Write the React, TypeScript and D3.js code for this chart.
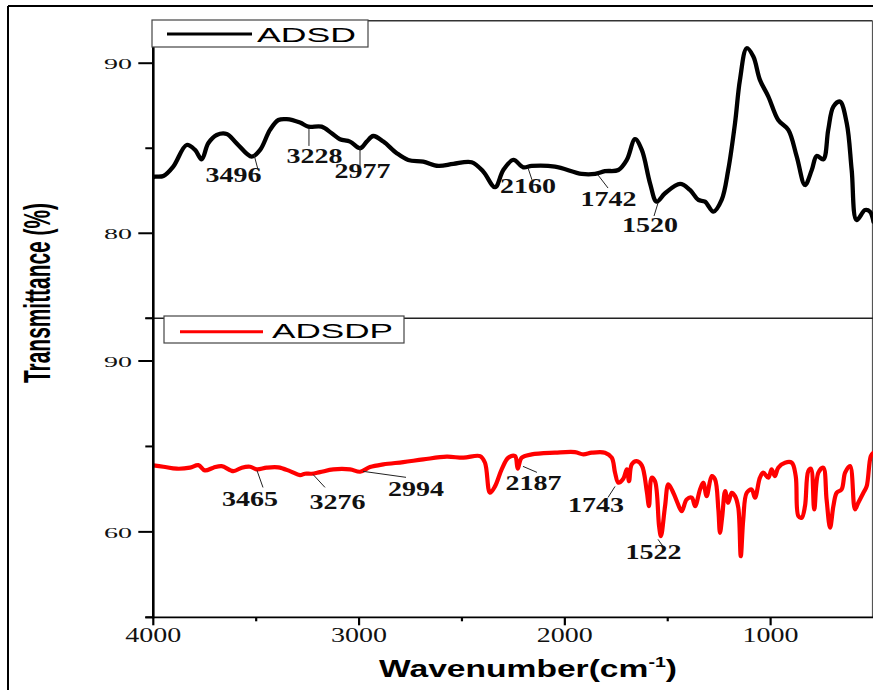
import React from "react";
import * as d3 from "d3";

// FTIR spectra: ADSD (upper panel) and ADSDP (lower panel)
const adsdWavenumber = [4000, 3992, 3951, 3903, 3838, 3797, 3765, 3733, 3692, 3643, 3595, 3522, 3481, 3433, 3392, 3352, 3287, 3247, 3182, 3133, 3093, 3044, 2995, 2963, 2931, 2882, 2817, 2761, 2688, 2615, 2542, 2453, 2396, 2339, 2299, 2250, 2202, 2161, 2048, 1918, 1853, 1805, 1740, 1699, 1659, 1626, 1586, 1554, 1513, 1440, 1392, 1351, 1319, 1278, 1238, 1206, 1173, 1149, 1116, 1084, 1052, 1011, 963, 914, 873, 833, 800, 776, 744, 720, 695, 663, 630, 606, 582, 541, 517, 500];
const adsdTransmittance = [83.3, 83.33, 83.37, 83.92, 85.19, 84.9, 84.35, 85.29, 85.78, 85.84, 85.29, 84.51, 84.9, 86.08, 86.66, 86.71, 86.51, 86.27, 86.27, 85.88, 85.53, 85.39, 85.0, 85.39, 85.72, 85.39, 84.71, 84.31, 84.21, 83.96, 84.08, 84.18, 83.62, 82.71, 83.72, 84.31, 83.88, 83.96, 83.92, 83.49, 83.49, 83.65, 83.72, 84.31, 85.53, 84.9, 82.94, 81.86, 82.35, 82.9, 82.55, 81.96, 81.86, 81.27, 81.96, 83.72, 86.47, 89.02, 90.88, 90.39, 89.02, 88.04, 86.66, 86.08, 84.51, 82.84, 83.72, 84.55, 84.35, 86.08, 87.45, 87.74, 86.47, 83.72, 80.78, 81.37, 81.27, 80.68];

const adsdpWavenumber = [4000, 3951, 3886, 3822, 3781, 3749, 3708, 3668, 3611, 3570, 3530, 3497, 3449, 3393, 3336, 3287, 3263, 3230, 3190, 3125, 3044, 2995, 2947, 2882, 2785, 2688, 2574, 2493, 2412, 2388, 2364, 2339, 2307, 2275, 2242, 2229, 2210, 2161, 2048, 1951, 1910, 1869, 1805, 1772, 1756, 1740, 1716, 1699, 1688, 1675, 1651, 1626, 1602, 1591, 1578, 1562, 1542, 1533, 1513, 1497, 1473, 1456, 1432, 1408, 1383, 1367, 1343, 1327, 1311, 1286, 1270, 1254, 1246, 1235, 1221, 1206, 1189, 1173, 1157, 1145, 1133, 1116, 1092, 1076, 1052, 1036, 1011, 995, 979, 963, 930, 897, 878, 865, 849, 833, 817, 804, 788, 768, 744, 728, 711, 695, 679, 655, 638, 614, 590, 574, 549, 533, 513, 500];
const adsdpTransmittance = [71.67, 71.44, 71.09, 71.27, 71.72, 70.79, 71.27, 71.55, 70.67, 71.27, 71.44, 70.97, 71.27, 71.32, 70.67, 69.96, 70.21, 70.21, 70.49, 70.97, 70.97, 70.56, 71.37, 71.85, 72.25, 72.72, 73.2, 73.02, 73.3, 72.14, 66.87, 68.03, 70.97, 73.02, 73.3, 71.09, 73.02, 73.6, 73.9, 74.0, 73.6, 73.9, 73.9, 73.02, 70.39, 68.63, 69.33, 70.97, 68.91, 71.85, 72.43, 71.67, 67.15, 64.52, 69.51, 68.91, 61.0, 59.24, 64.52, 68.33, 66.87, 65.4, 63.64, 65.69, 65.99, 64.52, 67.45, 68.63, 66.27, 69.79, 69.21, 63.94, 59.84, 62.76, 67.15, 65.11, 66.87, 66.27, 64.24, 55.73, 62.18, 66.87, 67.45, 65.99, 69.51, 70.39, 69.51, 70.97, 69.79, 71.27, 72.14, 72.14, 69.79, 62.76, 62.48, 64.52, 70.67, 71.09, 63.94, 70.39, 71.27, 65.69, 60.72, 64.52, 66.87, 67.45, 70.39, 71.55, 63.94, 65.11, 66.87, 68.03, 73.3, 73.9];

// Labelled band positions (cm-1)
const adsdBands = [3496, 3228, 2977, 2160, 1742, 1520];
const adsdpBands = [3465, 3276, 2994, 2187, 1743, 1522];

// Axis ticks
const xMajorTicks = [4000, 3000, 2000, 1000];
const xMinorTicks = [3500, 2500, 1500];
const topMajorTicks = [90, 80];
const topMinorTicks = [85, 75];
const bottomMajorTicks = [90, 60];
const bottomMinorTicks = [75, 45];

// Leader/label offsets for band labels: [x1, y1, x2, y2, labelX, labelY]
const adsdBandLayout = [
  [-3, 2.3, 1, 17.3, -23.5, 29.3],
  [-3.2, 1.3, -3.2, 19.3, 2.3, 36.3],
  [-3.8, 3.4, -3.8, 22.4, -1.3, 33.4],
  [-3.9, 2, 0.1, 14, -3.9, 27],
  [-19.9, 5, -9.9, 18, -9.4, 36],
  [-5.6, 8.3, -9.6, 21.3, -13.6, 37.3],
];
const adsdpBandLayout = [
  [-6.4, 2.2, -0.4, 19.2, -13.4, 38.2],
  [10.7, -0.1, 22.7, 12.9, 35.2, 34.9],
  [2.7, -0.3, 45.7, 5.7, 55.7, 24.7],
  [-3.4, 10.2, 10.6, 16.2, 7.1, 34.2],
  [-2.7, 5.6, -9.7, 16.6, -21.7, 31.6],
  [-5.2, 19.7, -0.2, 26.7, -9.7, 39.7],
];

const W = 873;
const H = 690;
const plotLeft = 153.3;
const plotRight = 873.5;
const plotTop = 20.7;
const plotMid = 318.3;
const plotBottom = 617.3;

const SERIF = "'Liberation Serif', 'Times New Roman', serif";
const SANS = "'Liberation Sans', Arial, sans-serif";

function interpolate(wn: number, wns: number[], ts: number[]) {
  for (let i = 0; i < wns.length - 1; i++) {
    if (wns[i] >= wn && wns[i + 1] <= wn) {
      const t = (wns[i] - wn) / (wns[i] - wns[i + 1]);
      return ts[i] + t * (ts[i + 1] - ts[i]);
    }
  }
  return ts[ts.length - 1];
}

export default function App() {
  const x = d3.scaleLinear().domain([4000, 500]).range([plotLeft, plotRight]);
  const yTop = d3.scaleLinear().domain([75, 92.5]).range([plotMid, plotTop]);
  const yBottom = d3.scaleLinear().domain([45, 97.5]).range([plotBottom, plotMid]);

  const topData = d3.zip(adsdWavenumber, adsdTransmittance);
  const bottomData = d3.zip(adsdpWavenumber, adsdpTransmittance);

  const topLine = d3
    .line<number[]>()
    .x((d) => x(d[0]))
    .y((d) => yTop(d[1]))
    .curve(d3.curveCatmullRom.alpha(0.5));
  const bottomLine = d3
    .line<number[]>()
    .x((d) => x(d[0]))
    .y((d) => yBottom(d[1]))
    .curve(d3.curveCatmullRom.alpha(0.5));

  const bandLabels = (
    bands: number[],
    layout: number[][],
    wns: number[],
    ts: number[],
    y: d3.ScaleLinear<number, number>
  ) =>
    bands.map((b, i) => {
      const ax = x(b);
      const ay = y(interpolate(b, wns, ts));
      const [x1, y1, x2, y2, lx, ly] = layout[i];
      return (
        <g key={b}>
          <line x1={ax + x1} y1={ay + y1} x2={ax + x2} y2={ay + y2} stroke="#222" strokeWidth={1} />
          <text
            x={ax + lx}
            y={ay + ly}
            textAnchor="middle"
            fontFamily={SERIF}
            fontWeight="bold"
            fontSize={20}
            textLength={56}
            lengthAdjust="spacingAndGlyphs"
            fill="#111"
          >
            {b}
          </text>
        </g>
      );
    });

  const yTicks = (
    major: number[],
    minor: number[],
    y: d3.ScaleLinear<number, number>
  ) => (
    <g>
      {major.map((v) => (
        <g key={"M" + v}>
          <line x1={plotLeft - 15} x2={plotLeft} y1={y(v)} y2={y(v)} stroke="#000" strokeWidth={2} />
          <text
            x={132}
            y={y(v) + 6}
            textAnchor="end"
            fontFamily={SERIF}
            fontSize={15}
            textLength={28}
            lengthAdjust="spacingAndGlyphs"
            fill="#111"
          >
            {v}
          </text>
        </g>
      ))}
      {minor.map((v) => (
        <line key={"m" + v} x1={plotLeft - 8} x2={plotLeft} y1={y(v)} y2={y(v)} stroke="#000" strokeWidth={2} />
      ))}
    </g>
  );

  return (
    <svg
      width={W}
      height={H}
      style={{ position: "absolute", left: 0, top: 0, background: "#fff" }}
    >
      <defs>
        <clipPath id="clipTop">
          <rect x={plotLeft} y={plotTop} width={plotRight - plotLeft} height={plotMid - plotTop} />
        </clipPath>
        <clipPath id="clipBottom">
          <rect x={plotLeft} y={plotMid} width={plotRight - plotLeft} height={plotBottom - plotMid} />
        </clipPath>
      </defs>
      <rect x={0} y={0} width={W} height={H} fill="#fff" />

      {/* outer frame */}
      <line x1={8} y1={6} x2={W} y2={6} stroke="#000" strokeWidth={2} />
      <line x1={8} y1={6} x2={8} y2={H} stroke="#000" strokeWidth={2} />

      {/* panel frame */}
      <line x1={plotLeft} y1={plotTop} x2={872.5} y2={plotTop} stroke="#333" strokeWidth={1.4} />
      <line x1={872.5} y1={plotTop} x2={872.5} y2={plotBottom} stroke="#555" strokeWidth={1.2} />
      <line x1={plotLeft - 8} y1={plotMid} x2={W} y2={plotMid} stroke="#222" strokeWidth={1.6} />

      {/* spectra */}
      <path
        d={topLine(topData) || ""}
        fill="none"
        stroke="#000"
        strokeWidth={4.3}
        strokeLinejoin="round"
        strokeLinecap="round"
        clipPath="url(#clipTop)"
      />
      <path
        d={bottomLine(bottomData) || ""}
        fill="none"
        stroke="#ff0000"
        strokeWidth={4.2}
        strokeLinejoin="round"
        strokeLinecap="round"
        clipPath="url(#clipBottom)"
      />

      {bandLabels(adsdBands, adsdBandLayout, adsdWavenumber, adsdTransmittance, yTop)}
      {bandLabels(adsdpBands, adsdpBandLayout, adsdpWavenumber, adsdpTransmittance, yBottom)}

      {/* axes */}
      <line x1={plotLeft} y1={plotTop} x2={plotLeft} y2={plotBottom + 1} stroke="#000" strokeWidth={2.6} />
      <line x1={plotLeft - 8} y1={plotBottom} x2={W} y2={plotBottom} stroke="#000" strokeWidth={1.7} />
      {yTicks(topMajorTicks, topMinorTicks, yTop)}
      {yTicks(bottomMajorTicks, bottomMinorTicks, yBottom)}

      {xMajorTicks.map((v) => (
        <g key={"x" + v}>
          <line x1={x(v)} x2={x(v)} y1={plotBottom} y2={plotBottom + 8} stroke="#000" strokeWidth={2.2} />
          <text
            x={x(v)}
            y={642}
            textAnchor="middle"
            fontFamily={SERIF}
            fontSize={20}
            textLength={56}
            lengthAdjust="spacingAndGlyphs"
            fill="#111"
          >
            {v}
          </text>
        </g>
      ))}
      {xMinorTicks.map((v) => (
        <line key={"xm" + v} x1={x(v)} x2={x(v)} y1={plotBottom} y2={plotBottom + 4} stroke="#000" strokeWidth={2.2} />
      ))}

      {/* legends */}
      <g>
        <rect x={152} y={20} width={216} height={27} fill="#fff" stroke="#444" strokeWidth={1.2} />
        <line x1={167} x2={252} y1={34} y2={34} stroke="#000" strokeWidth={3} />
        <text
          x={257}
          y={42}
          fontFamily={SANS}
          fontSize={21}
          textLength={99}
          lengthAdjust="spacingAndGlyphs"
          fill="#000"
        >
          ADSD
        </text>
      </g>
      <g>
        <rect x={164} y={316} width={240} height={27} fill="#fff" stroke="#444" strokeWidth={1.2} />
        <line x1={180} x2={263} y1={331.7} y2={331.7} stroke="#ff0000" strokeWidth={3} />
        <text
          x={272}
          y={338}
          fontFamily={SANS}
          fontSize={21}
          textLength={121}
          lengthAdjust="spacingAndGlyphs"
          fill="#000"
        >
          ADSDP
        </text>
      </g>

      {/* axis titles */}
      <text
        transform="translate(50,293) rotate(-90)"
        textAnchor="middle"
        fontFamily={SANS}
        fontWeight="bold"
        fontSize={37}
        textLength={180}
        lengthAdjust="spacingAndGlyphs"
        fill="#000"
      >
        Transmittance (%)
      </text>
      <text
        transform="translate(528,677) scale(1.4,1)"
        textAnchor="middle"
        fontFamily={SANS}
        fontWeight="bold"
        fontSize={24}
        fill="#000"
      >
        Wavenumber(cm
        <tspan fontSize={14} dy={-10}>
          -1
        </tspan>
        <tspan dy={10}>)</tspan>
      </text>
    </svg>
  );
}
